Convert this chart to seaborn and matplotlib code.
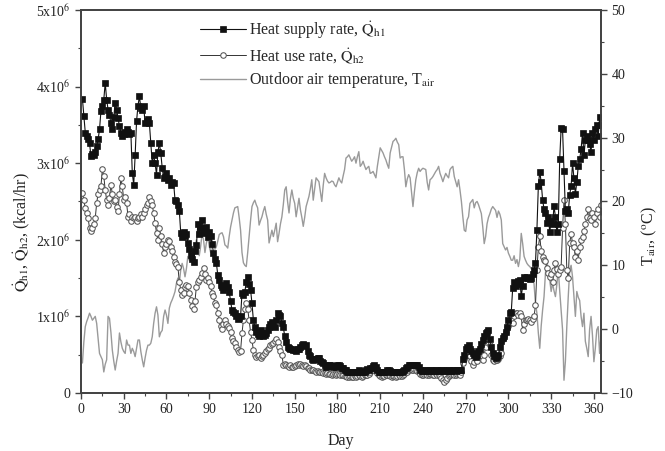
import numpy as np
import pandas as pd
import matplotlib
matplotlib.use("Agg")
import matplotlib.pyplot as plt
import seaborn as sns
from matplotlib.ticker import MultipleLocator

# Daily values (heat rates in 10^6 kcal/hr, temperature in deg C)
days = list(range(1, 366))

heat_supply = [
    3.84, 3.62, 3.40, 3.35, 3.31, 3.26, 3.09, 3.12, 3.10, 3.15,
    3.22, 3.31, 3.44, 3.68, 3.75, 3.83, 4.05, 3.83, 3.70, 3.63,
    3.52, 3.44, 3.60, 3.79, 3.70, 3.59, 3.48, 3.40, 3.35, 3.38,
    3.41, 3.45, 3.41, 3.38, 3.40, 2.87, 2.72, 3.10, 3.55, 3.75,
    3.87, 3.72, 3.70, 3.74, 3.52, 3.55, 3.58, 3.52, 3.26, 3.00,
    3.10, 3.00, 2.85, 3.15, 3.26, 3.13, 2.94, 2.80, 2.82, 2.87,
    2.78, 2.80, 2.72, 2.76, 2.74, 2.52, 2.50, 2.45, 2.38, 2.09,
    2.03, 2.10, 2.05, 2.07, 1.96, 1.88, 1.80, 1.75, 1.71, 1.85,
    1.93, 2.20, 2.07, 2.15, 2.26, 2.09, 2.15, 2.17, 2.03, 2.10,
    2.05, 1.95, 1.83, 1.75, 1.70, 1.54, 1.48, 1.41, 1.38, 1.35,
    1.40, 1.44, 1.38, 1.32, 1.20, 1.08, 1.06, 1.04, 1.00, 0.96,
    0.98, 1.00, 1.30, 1.28, 1.32, 1.45, 1.52, 1.42, 1.35, 1.17,
    0.95, 0.86, 0.80, 0.77, 0.75, 0.82, 0.78, 0.74, 0.76, 0.78,
    0.82, 0.86, 0.90, 0.93, 0.88, 0.86, 0.95, 1.04, 1.02, 1.00,
    0.92, 0.86, 0.74, 0.66, 0.60, 0.59, 0.58, 0.57, 0.56, 0.56,
    0.55, 0.58, 0.57, 0.60, 0.63, 0.64, 0.61, 0.63, 0.55, 0.50,
    0.48, 0.45, 0.43, 0.44, 0.45, 0.46, 0.46, 0.42, 0.40, 0.39,
    0.36, 0.34, 0.35, 0.36, 0.36, 0.35, 0.34, 0.35, 0.34, 0.36,
    0.37, 0.35, 0.33, 0.32, 0.30, 0.30, 0.28, 0.27, 0.27, 0.28,
    0.28, 0.27, 0.27, 0.28, 0.30, 0.29, 0.28, 0.27, 0.28, 0.30,
    0.31, 0.30, 0.32, 0.33, 0.35, 0.36, 0.34, 0.30, 0.28, 0.27,
    0.27, 0.28, 0.27, 0.28, 0.30, 0.30, 0.29, 0.28, 0.27, 0.28,
    0.27, 0.28, 0.28, 0.27, 0.28, 0.29, 0.30, 0.32, 0.34, 0.36,
    0.37, 0.37, 0.37, 0.36, 0.37, 0.36, 0.34, 0.30, 0.29, 0.29,
    0.30, 0.30, 0.29, 0.29, 0.30, 0.30, 0.29, 0.29, 0.30, 0.30,
    0.29, 0.29, 0.30, 0.30, 0.29, 0.29, 0.30, 0.30, 0.29, 0.29,
    0.30, 0.30, 0.29, 0.30, 0.30, 0.30, 0.30, 0.45, 0.50, 0.58,
    0.60, 0.63, 0.58, 0.55, 0.52, 0.50, 0.47, 0.50, 0.55, 0.58,
    0.64, 0.69, 0.74, 0.78, 0.80, 0.82, 0.70, 0.60, 0.52, 0.48,
    0.46, 0.47, 0.50, 0.60, 0.68, 0.72, 0.75, 0.80, 0.86, 0.95,
    1.04, 1.06, 1.37, 1.45, 1.40, 1.42, 1.46, 1.48, 1.26, 1.40,
    1.52, 1.50, 1.52, 1.50, 1.49, 1.50, 1.55, 1.60, 1.70, 2.13,
    2.70, 2.89, 2.75, 2.52, 2.40, 2.35, 2.22, 2.30, 2.10, 2.25,
    2.20, 2.44, 2.30, 2.10, 2.20, 3.05, 3.46, 3.44, 2.90, 2.37,
    2.40, 2.35, 2.59, 2.70, 3.00, 2.80, 2.60, 2.75, 2.96, 3.05,
    3.18, 3.40, 3.10, 3.30, 3.35, 3.30, 3.25, 3.15, 3.40, 3.30,
    3.45, 3.50, 3.35, 3.60, 3.50,
]

heat_use = [
    2.61, 2.52, 2.41, 2.35, 2.28, 2.15, 2.12, 2.15, 2.20, 2.28,
    2.48, 2.60, 2.65, 2.70, 2.92, 2.83, 2.65, 2.52, 2.46, 2.55,
    2.72, 2.60, 2.50, 2.52, 2.43, 2.37, 2.60, 2.80, 2.70, 2.52,
    2.56, 2.48, 2.30, 2.33, 2.25, 2.30, 2.28, 2.30, 2.25, 2.28,
    2.30, 2.33, 2.30, 2.35, 2.40, 2.45, 2.48, 2.56, 2.50, 2.45,
    2.35, 2.22, 2.09, 2.00, 2.15, 2.05, 1.95, 1.83, 1.90, 1.95,
    2.00, 1.98, 1.90, 1.85, 1.78, 1.71, 1.68, 1.65, 1.45, 1.35,
    1.28, 1.30, 1.38, 1.41, 1.40, 1.30, 1.22, 1.13, 1.09, 1.20,
    1.39, 1.45, 1.48, 1.52, 1.57, 1.63, 1.55, 1.48, 1.50, 1.45,
    1.40, 1.30, 1.26, 1.17, 1.15, 1.04, 0.95, 0.88, 0.83, 0.90,
    0.95, 0.90, 0.88, 0.85, 0.80, 0.72, 0.68, 0.65, 0.60, 0.56,
    0.54, 0.55, 0.78, 0.95, 1.09, 1.17, 1.10, 0.95, 0.80, 0.69,
    0.56, 0.50, 0.47, 0.48, 0.50, 0.46, 0.48, 0.50, 0.52, 0.55,
    0.57, 0.59, 0.62, 0.64, 0.65, 0.68, 0.70, 0.66, 0.60, 0.55,
    0.50, 0.37, 0.38, 0.36, 0.35, 0.34, 0.36, 0.34, 0.34, 0.35,
    0.37, 0.38, 0.36, 0.38, 0.36, 0.35, 0.36, 0.35, 0.33, 0.32,
    0.30, 0.30, 0.30, 0.29, 0.28, 0.29, 0.28, 0.27, 0.27, 0.26,
    0.26, 0.25, 0.26, 0.25, 0.25, 0.24, 0.25, 0.25, 0.24, 0.25,
    0.25, 0.24, 0.23, 0.23, 0.22, 0.22, 0.21, 0.21, 0.22, 0.21,
    0.21, 0.22, 0.21, 0.22, 0.23, 0.22, 0.21, 0.22, 0.23, 0.24,
    0.24, 0.25, 0.27, 0.30, 0.33, 0.34, 0.30, 0.26, 0.23, 0.22,
    0.21, 0.22, 0.22, 0.23, 0.24, 0.23, 0.22, 0.21, 0.22, 0.22,
    0.21, 0.22, 0.23, 0.22, 0.22, 0.23, 0.25, 0.27, 0.28, 0.30,
    0.31, 0.30, 0.30, 0.31, 0.30, 0.29, 0.27, 0.25, 0.24, 0.24,
    0.25, 0.25, 0.24, 0.24, 0.25, 0.25, 0.24, 0.24, 0.25, 0.24,
    0.23, 0.22, 0.20, 0.17, 0.15, 0.17, 0.20, 0.22, 0.24, 0.25,
    0.25, 0.24, 0.24, 0.25, 0.25, 0.24, 0.27, 0.39, 0.45, 0.48,
    0.50, 0.52, 0.48, 0.42, 0.37, 0.40, 0.44, 0.42, 0.48, 0.52,
    0.48, 0.43, 0.50, 0.60, 0.66, 0.70, 0.62, 0.50, 0.43, 0.42,
    0.43, 0.43, 0.45, 0.48, 0.52, 0.70, 0.75, 0.80, 0.86, 0.88,
    0.91, 0.96, 0.92, 1.00, 1.04, 1.05, 1.02, 1.04, 1.00, 0.82,
    0.90, 0.95, 0.95, 0.96, 0.95, 0.93, 0.96, 1.00, 1.15, 1.61,
    1.90, 2.05, 1.85, 1.78, 1.74, 1.72, 1.63, 1.57, 1.52, 1.55,
    1.45, 1.60, 1.70, 1.62, 1.55, 1.60, 1.65, 2.15, 2.52, 2.20,
    1.60, 1.50, 1.96, 2.07, 1.96, 1.90, 1.78, 1.85, 1.74, 1.90,
    2.00, 2.04, 2.12, 2.20, 2.30, 2.40, 2.28, 2.26, 2.35, 2.30,
    2.20, 2.35, 2.40, 2.30, 2.45,
]

t_air = [
    -5.3, -2.0, 0.4, 1.2, 1.8, 2.5, 2.0, 1.4, 1.7, 2.0,
    0.9, -1.5, -3.8, -4.3, -4.8, -6.7, -5.5, -4.8, 2.0, 1.7,
    -0.5, -3.3, -5.0, -6.4, -5.0, -3.8, -0.6, -2.0, -3.0, -3.5,
    -3.8, -1.7, -2.5, -2.5, -3.8, -3.0, -3.5, -4.3, -3.0, -1.7,
    -1.7, -3.5, -4.8, -5.9, -4.5, -3.3, -2.5, -2.5, -2.2, -1.2,
    0.9, 2.5, 3.5, 2.2, -1.2, -0.5, -0.2, 2.0, 3.0, 2.2,
    0.9, 3.3, 4.1, 4.6, 5.2, 5.9, 7.2, 8.0, 7.2, 9.3,
    10.3, 9.5, 8.2, 9.5, 11.4, 10.8, 11.9, 12.5, 11.0, 12.5,
    14.0, 13.0, 11.5, 13.0, 15.0, 14.0, 12.0, 13.5, 14.5, 13.0,
    12.0, 14.0, 13.0, 12.5, 12.9, 13.8, 14.8, 15.0, 15.1, 14.5,
    13.2, 13.0, 12.7, 14.5, 16.0, 17.1, 18.2, 19.0, 19.1, 19.2,
    17.5, 15.5, 12.0, 10.4, 10.0, 9.8, 12.0, 14.5, 17.0, 19.2,
    19.8, 20.2, 19.5, 19.0, 16.3, 17.0, 17.6, 18.5, 19.2, 18.0,
    17.1, 13.5, 14.5, 15.5, 14.5, 15.5, 16.6, 13.7, 15.0, 16.5,
    17.6, 19.5, 21.8, 22.3, 20.0, 18.2, 20.5, 21.8, 20.5, 19.7,
    17.6, 19.0, 20.5, 18.7, 17.5, 16.1, 17.5, 19.2, 20.0, 20.8,
    22.0, 23.4, 20.2, 22.0, 23.7, 23.4, 23.1, 21.5, 20.0, 22.5,
    24.4, 23.7, 23.2, 22.9, 23.0, 23.2, 23.1, 22.6, 22.3, 23.0,
    23.7, 23.2, 22.9, 24.0, 25.0, 26.8, 27.0, 27.3, 26.8, 26.3,
    26.6, 27.0, 26.0, 27.0, 27.8, 25.5, 25.8, 26.3, 25.6, 25.0,
    25.3, 25.5, 24.4, 24.5, 24.7, 24.2, 23.7, 25.5, 27.0, 28.4,
    28.0, 27.6, 27.0, 26.5, 25.8, 25.2, 27.6, 28.5, 29.4, 29.6,
    29.9, 29.3, 28.9, 26.8, 27.0, 27.0, 25.0, 22.3, 23.5, 24.2,
    23.7, 21.5, 19.2, 21.5, 23.4, 24.5, 25.2, 24.7, 25.0, 25.2,
    25.1, 25.0, 23.0, 21.8, 23.4, 23.6, 23.9, 24.3, 24.7, 25.0,
    25.5, 24.4, 23.8, 23.1, 23.8, 24.4, 24.0, 23.7, 25.0, 25.3,
    25.5, 23.9, 23.1, 22.3, 23.4, 21.8, 20.0, 17.6, 15.5, 15.3,
    17.1, 17.6, 19.7, 20.0, 20.3, 19.0, 19.8, 20.0, 19.5, 18.8,
    18.1, 16.0, 13.4, 14.5, 16.5, 17.5, 18.1, 18.8, 19.2, 18.9,
    18.6, 17.5, 18.5, 18.0, 17.1, 13.4, 12.9, 12.4, 12.8, 11.9,
    11.4, 10.8, 10.8, 11.5, 10.3, 10.9, 9.8, 11.0, 15.0, 13.4,
    11.4, 10.8, 10.3, 10.0, 9.8, 9.5, 9.2, 7.0, 4.0, 2.5,
    -0.6, -3.0, 0.5, 3.0, 5.1, 8.8, 10.8, 9.0, 7.7, 5.9,
    7.2, 6.0, 5.1, 7.0, 9.3, 6.0, 3.0, -0.1, -8.0, -5.0,
    0.5, 5.1, 9.3, 10.0, 8.2, 5.0, 2.0, 5.9, 5.0, 4.5,
    2.0, 0.4, 2.5, -1.9, -3.0, -4.3, 0.0, 2.0, -1.0, -5.1,
    -3.0, -0.1, 0.4, -3.8, -1.0,
]

left_ticks = [0, 1, 2, 3, 4, 5]
left_labels = ["0", "1x10$^6$", "2x10$^6$", "3x10$^6$", "4x10$^6$", "5x10$^6$"]
day_ticks = list(range(0, 361, 30))
temp_ticks = list(range(-10, 51, 10))

df = pd.DataFrame({"day": days, "supply": heat_supply, "use": heat_use, "tair": t_air})

sns.set_style("ticks")
plt.rcParams["font.family"] = ["Liberation Serif", "DejaVu Serif"]
plt.rcParams["mathtext.fontset"] = "stix"
plt.rcParams["axes.edgecolor"] = "#444444"
plt.rcParams["axes.linewidth"] = 1.3

fig = plt.figure(figsize=(6.65, 4.51), dpi=100)
ax = fig.add_axes([0.1218, 0.1286, 0.782, 0.8494])
ax2 = ax.twinx()

# temperature on the secondary axis, kept behind the heat curves
sns.lineplot(data=df, x="day", y="tair", ax=ax2, color="#9a9a9a", linewidth=1.0,
             label="Outdoor air temperature, T$_{\\mathrm{air}}$", legend=False)

sns.lineplot(data=df, x="day", y="use", ax=ax, color="#333333", linewidth=0.7,
             marker="o", markersize=4.0, markerfacecolor="white",
             markeredgecolor="#555555", markeredgewidth=0.75,
             label="Heat use rate, $\\dot{\\mathrm{Q}}_{\\mathrm{h2}}$", legend=False)
sns.lineplot(data=df, x="day", y="supply", ax=ax, color="#111111", linewidth=0.8,
             marker="s", markersize=3.8, markerfacecolor="#111111",
             markeredgecolor="#111111", markeredgewidth=0.5,
             label="Heat supply rate, $\\dot{\\mathrm{Q}}_{\\mathrm{h1}}$", legend=False)

ax.set_zorder(ax2.get_zorder() + 1)
ax.patch.set_visible(False)

ax.set_xlim(0, 365)
ax.set_ylim(0, 5)
ax2.set_ylim(-10, 50)

ax.set_xticks(day_ticks)
ax.xaxis.set_minor_locator(MultipleLocator(15))
ax.set_yticks(left_ticks)
ax.set_yticklabels(left_labels)
ax.yaxis.set_minor_locator(MultipleLocator(0.5))
ax2.set_yticks(temp_ticks)
ax2.yaxis.set_minor_locator(MultipleLocator(5))

for a in (ax, ax2):
    a.tick_params(which="major", length=4, width=1.0, color="#444444",
                  labelsize=10, labelcolor="#222222")
    a.tick_params(which="minor", length=2.5, width=0.8, color="#444444")
    for s in a.spines.values():
        s.set_visible(True)
        s.set_color("#444444")
        s.set_linewidth(1.3)

ax.set_xlabel("Day", fontsize=11.5, color="#222222", labelpad=12)
ax.set_ylabel("$\\dot{\\mathrm{Q}}_{\\mathrm{h1}}$, $\\dot{\\mathrm{Q}}_{\\mathrm{h2}}$, (kcal/hr)",
              fontsize=11.5, color="#222222")
ax.yaxis.set_label_coords(-0.095, 0.42)
ax2.set_ylabel("T$_{\\mathrm{air}}$, ($^{\\mathrm{o}}$C)", fontsize=11.5, color="#222222")
ax2.yaxis.set_label_coords(1.075, 0.41)

h1, l1 = ax.get_legend_handles_labels()
h2, l2 = ax2.get_legend_handles_labels()
handles = [h1[1], h1[0], h2[0]]
labels = [l1[1], l1[0], l2[0]]
ax.legend(handles, labels, loc="upper left", bbox_to_anchor=(0.21, 1.0),
          frameon=False, fontsize=11.5, handlelength=2.9, labelspacing=0.3,
          handletextpad=0.2, borderaxespad=0.2)

fig.savefig("out.png", dpi=100)
